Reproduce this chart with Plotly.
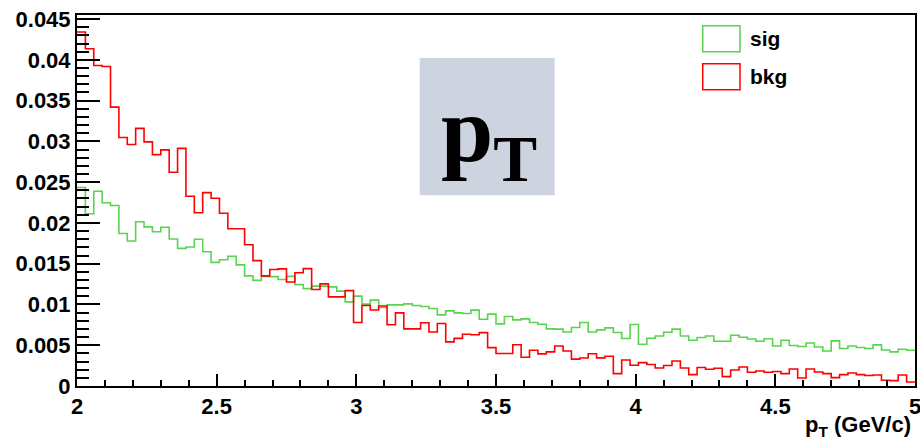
import plotly.graph_objects as go

# ---------------- data ----------------
x_min, x_max, n_bins = 2.0, 5.0, 100

sig = [0.02435, 0.02112, 0.02388, 0.02248, 0.02214, 0.01870, 0.01778, 0.02014, 0.01952, 0.01891,
       0.01947, 0.01802, 0.01688, 0.01704, 0.01800, 0.01646, 0.01516, 0.01548, 0.01591, 0.01485,
       0.01350, 0.01295, 0.01345, 0.01342, 0.01307, 0.01345, 0.01243, 0.01194, 0.01225, 0.01225,
       0.01216, 0.01163, 0.01032, 0.01102, 0.01004, 0.01053, 0.00963, 0.00995, 0.00995, 0.01007,
       0.00988, 0.00975, 0.00951, 0.00872, 0.00921, 0.00897, 0.00889, 0.00930, 0.00819, 0.00881,
       0.00762, 0.00853, 0.00811, 0.00823, 0.00779, 0.00758, 0.00700, 0.00697, 0.00663, 0.00717,
       0.00779, 0.00663, 0.00688, 0.00713, 0.00656, 0.00582, 0.00754, 0.00512, 0.00586, 0.00614,
       0.00660, 0.00697, 0.00614, 0.00561, 0.00595, 0.00614, 0.00549, 0.00549, 0.00623, 0.00598,
       0.00577, 0.00549, 0.00580, 0.00491, 0.00561, 0.00496, 0.00484, 0.00528, 0.00479, 0.00430,
       0.00553, 0.00459, 0.00491, 0.00472, 0.00459, 0.00504, 0.00442, 0.00418, 0.00451, 0.00439]

bkg = [0.04342, 0.04136, 0.03931, 0.03919, 0.03420, 0.03047, 0.02961, 0.03160, 0.02994, 0.02838,
       0.02896, 0.02622, 0.02914, 0.02328, 0.02124, 0.02371, 0.02302, 0.02118, 0.01929, 0.01929,
       0.01732, 0.01538, 0.01350, 0.01428, 0.01437, 0.01276, 0.01388, 0.01440, 0.01184, 0.01253,
       0.01093, 0.01093, 0.01170, 0.00779, 0.00988, 0.00932, 0.00982, 0.00751, 0.00897, 0.00700,
       0.00700, 0.00776, 0.00663, 0.00767, 0.00541, 0.00584, 0.00635, 0.00628, 0.00655, 0.00471,
       0.00398, 0.00398, 0.00506, 0.00353, 0.00439, 0.00394, 0.00418, 0.00491, 0.00429, 0.00330,
       0.00344, 0.00396, 0.00345, 0.00365, 0.00152, 0.00319, 0.00254, 0.00287, 0.00263, 0.00221,
       0.00251, 0.00307, 0.00221, 0.00140, 0.00226, 0.00205, 0.00217, 0.00115, 0.00197, 0.00233,
       0.00168, 0.00184, 0.00168, 0.00177, 0.00152, 0.00209, 0.00098, 0.00209, 0.00172, 0.00152,
       0.00103, 0.00140, 0.00160, 0.00140, 0.00128, 0.00135, 0.00070, 0.00066, 0.00135, 0.00049]

x_tick_vals = [2, 2.5, 3, 3.5, 4, 4.5, 5]
x_tick_text = ["2", "2.5", "3", "3.5", "4", "4.5", "5"]
y_tick_vals = [0, 0.005, 0.01, 0.015, 0.02, 0.025, 0.03, 0.035, 0.04, 0.045]
y_tick_text = ["0", "0.005", "0.01", "0.015", "0.02", "0.025", "0.03", "0.035", "0.04", "0.045"]

series_names = ["sig", "bkg"]
x_title = "p<sub>T</sub> (GeV/c)"
box_title = "p<sub>T</sub>"

# ---------------- figure ----------------
bw = (x_max - x_min) / n_bins
edges = [x_min + i * bw for i in range(n_bins + 1)]

GREEN = "rgb(88,212,80)"
RED = "rgb(255,0,0)"
FONT = "Liberation Sans, Arial, sans-serif"

fig = go.Figure()
for name, vals, col in [(series_names[0], sig, GREEN), (series_names[1], bkg, RED)]:
    fig.add_trace(go.Scatter(
        x=edges, y=vals + [vals[-1]], mode="lines", name=name,
        line=dict(color=col, width=1.6, shape="hv"), showlegend=False,
        hoverinfo="skip"))

axis_common = dict(showline=True, linecolor="black", linewidth=2, mirror=True,
                   showgrid=False, zeroline=False, ticks="inside", tickcolor="black",
                   automargin=False, ticklabeloverflow="allow",
                   tickfont=dict(family=FONT, size=22, color="black", weight="bold"))

fig.update_xaxes(range=[x_min, x_max], tickvals=x_tick_vals, ticktext=x_tick_text,
                 ticklen=12, tickwidth=1.5,
                 minor=dict(dtick=0.1, ticklen=6, ticks="inside", tickcolor="black", tickwidth=1.5),
                 **axis_common)
fig.update_yaxes(range=[0, 0.0455], tickvals=y_tick_vals, ticktext=y_tick_text,
                 ticklen=23, tickwidth=1.5,
                 minor=dict(dtick=0.001, ticklen=12, ticks="inside", tickcolor="black", tickwidth=1.5),
                 **axis_common)

shapes = [
    # title box
    dict(type="rect", xref="paper", yref="paper", x0=0.409, x1=0.570, y0=0.514, y1=0.884,
         fillcolor="rgb(205,212,224)", line=dict(width=0), layer="below"),
    # legend boxes
    dict(type="rect", xref="paper", yref="paper", x0=0.7467, x1=0.7912, y0=0.901, y1=0.9711,
         fillcolor="white", line=dict(color=GREEN, width=1.5)),
    dict(type="rect", xref="paper", yref="paper", x0=0.7467, x1=0.7912, y0=0.7985, y1=0.8686,
         fillcolor="white", line=dict(color=RED, width=1.5)),
]

annotations = [
    dict(text="<b>" + box_title + "</b>", xref="paper", yref="paper", x=0.4915, y=0.675,
         xanchor="center", yanchor="middle", showarrow=False,
         font=dict(family="Liberation Serif, Times New Roman, serif", size=94, color="black")),
    dict(text="<b>" + series_names[0] + "</b>", xref="paper", yref="paper", x=0.8007, y=0.9361,
         xanchor="left", yanchor="middle", showarrow=False,
         font=dict(family=FONT, size=21, color="black")),
    dict(text="<b>" + series_names[1] + "</b>", xref="paper", yref="paper", x=0.8007, y=0.8336,
         xanchor="left", yanchor="middle", showarrow=False,
         font=dict(family=FONT, size=21, color="black")),
    dict(text="<b>" + x_title + "</b>", xref="paper", yref="paper", x=0.998, y=-0.064,
         xanchor="right", yanchor="top", showarrow=False,
         font=dict(family=FONT, size=22, color="black")),
]

fig.update_layout(width=920, height=439, margin=dict(l=77, r=5, t=15, b=53, pad=0),
                  plot_bgcolor="white", paper_bgcolor="white",
                  shapes=shapes, annotations=annotations, showlegend=False)

fig.write_html("out.html")
